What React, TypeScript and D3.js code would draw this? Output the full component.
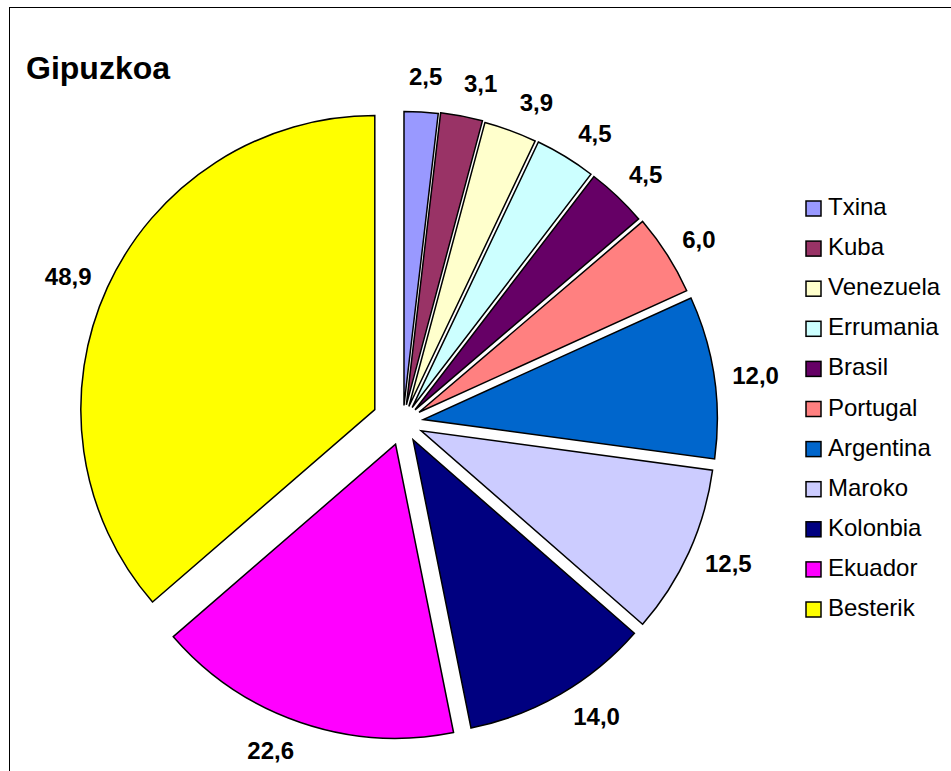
import React from "react";
import * as d3 from "d3";

const title = "Gipuzkoa";
const categories = ["Txina", "Kuba", "Venezuela", "Errumania", "Brasil", "Portugal", "Argentina", "Maroko", "Kolonbia", "Ekuador", "Besterik"];
const values = [2.5, 3.1, 3.9, 4.5, 4.5, 6.0, 12.0, 12.5, 14.0, 22.6, 48.9];
const colors = ["#9999FF", "#993366", "#FFFFCC", "#CCFFFF", "#660066", "#FF8080", "#0066CC", "#CCCCFF", "#000080", "#FF00FF", "#FFFF00"];
// explosion distance of each slice (px) and small angular nudges of the value labels (deg)
const explode = [17, 18, 17, 17.5, 17.5, 19, 20.5, 20, 20, 23, 31];
const labelNudge = [0.4, 2.1, 2.5, 2.2, 1.0, 0.8, 0.6, -0.7, -2.9, 2.8, -0.6];

const W = 951;
const H = 771;
const cx = 403;
const cy = 422.5;
const R = 294;
const labelFont = 24;
const legendFont = 24;

const fmt = (v: number) => d3.format(".1f")(v).replace(".", ",");

export default function App() {
  const pie = d3.pie<number>().sort(null).startAngle(0).endAngle(2 * Math.PI).value((d) => d);
  const arcs = pie(values);
  const arc = d3.arc<d3.PieArcDatum<number>>().innerRadius(0).outerRadius(R);

  const legendY = d3.scaleLinear().domain([0, categories.length - 1]).range([208.5, 609.5]);

  return (
    <svg width={W} height={H} style={{ position: "absolute", left: 0, top: 0 }} fontFamily="'Liberation Sans', Arial, sans-serif">
      <rect x={0} y={0} width={W} height={H} fill="#fff" />
      <rect x={9.5} y={7.5} width={W + 20} height={H + 20} fill="none" stroke="#000" strokeWidth={1} />
      <text x={26} y={79} fontSize={32} fontWeight="bold" fill="#000">{title}</text>
      {arcs.map((a, i) => {
        const mid = (a.startAngle + a.endAngle) / 2;
        const ux = Math.sin(mid);
        const uy = -Math.cos(mid);
        const tx = cx + ux * explode[i];
        const ty = cy + uy * explode[i];
        return (
          <path key={categories[i]} d={arc(a) || ""} transform={`translate(${tx},${ty})`} fill={colors[i]} stroke="#000" strokeWidth={1.5} strokeLinejoin="miter" />
        );
      })}
      {arcs.map((a, i) => {
        const mid = (a.startAngle + a.endAngle) / 2 + (labelNudge[i] * Math.PI) / 180;
        const ux = Math.sin(mid);
        const uy = -Math.cos(mid);
        const label = fmt(values[i]);
        const wEm = label.split("").reduce((s, c) => s + (c === "," ? 0.278 : 0.556), 0);
        const hw = (wEm * labelFont) / 2;
        const hh = 18;
        const r = explode[i] + R + 18;
        const x = cx + ux * r + ux * hw;
        const y = cy + uy * r + uy * hh;
        return (
          <text key={"l" + i} x={x} y={y + 0.716 * labelFont / 2} textAnchor="middle" fontSize={labelFont} fontWeight="bold" fill="#000">{label}</text>
        );
      })}
      {categories.map((c, i) => (
        <g key={"lg" + c} transform={`translate(0,${legendY(i)})`}>
          <rect x={806} y={-7.5} width={15} height={15} fill={colors[i]} stroke="#000" strokeWidth={1.5} />
          <text x={828} y={6.5} fontSize={legendFont} fill="#000">{c}</text>
        </g>
      ))}
    </svg>
  );
}
